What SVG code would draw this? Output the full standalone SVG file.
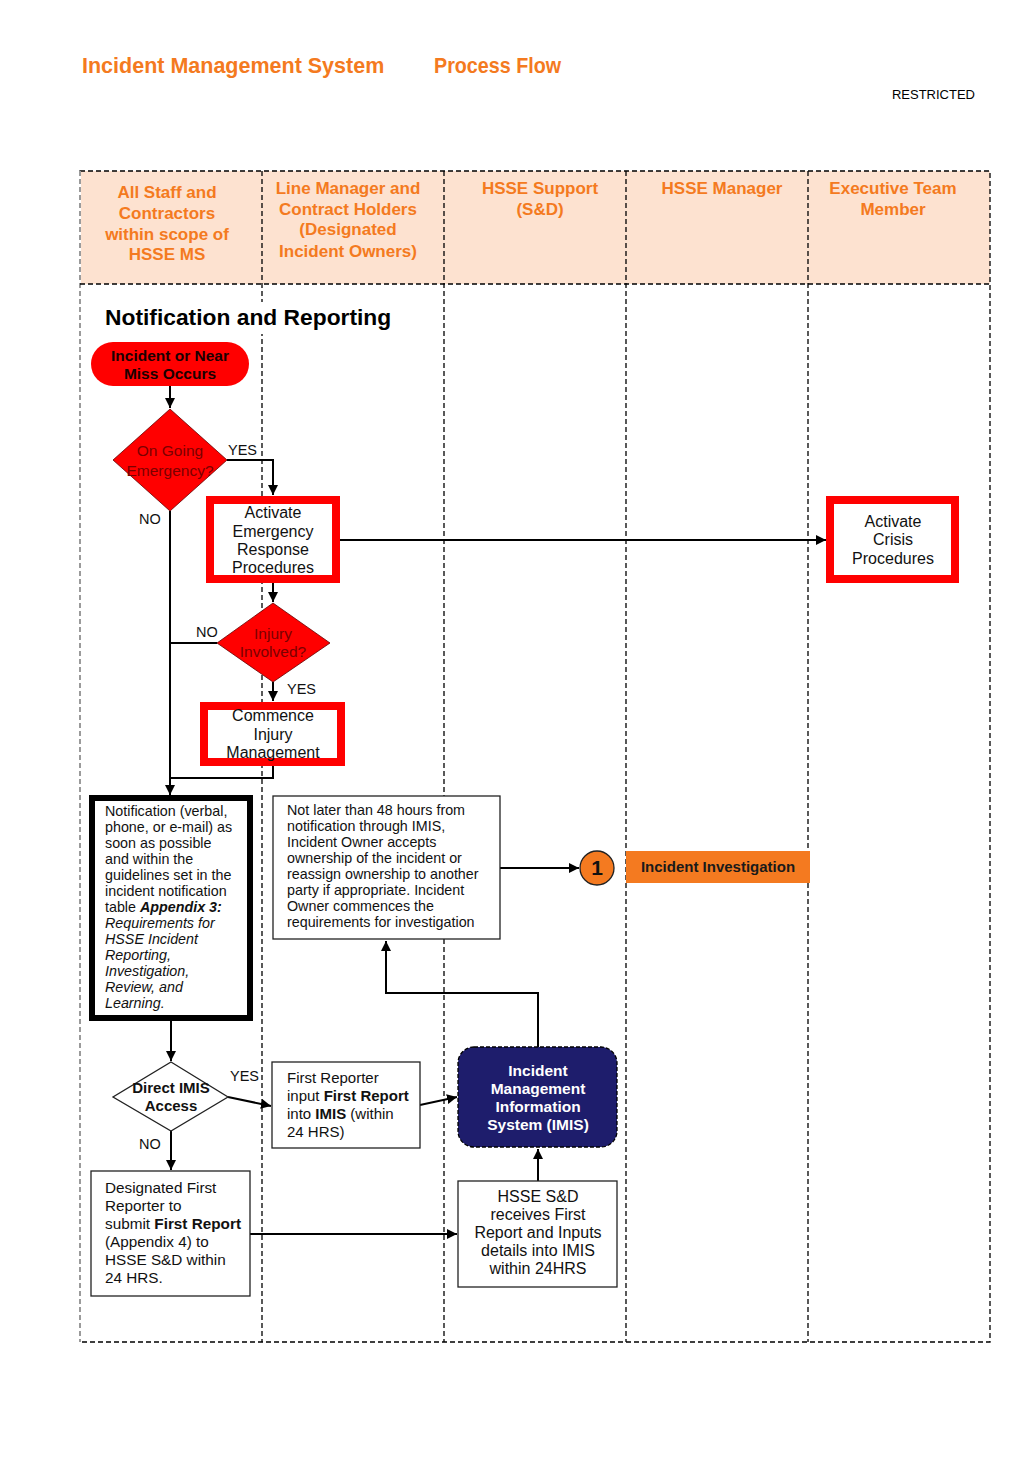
<svg xmlns="http://www.w3.org/2000/svg" width="1024" height="1479" viewBox="0 0 1024 1479">
<style>
text{font-family:"Liberation Sans",Arial,sans-serif;}
.title{font-size:21.5px;font-weight:bold;fill:#F47A20;}
.hdr{font-size:17px;font-weight:bold;fill:#F47A20;text-anchor:middle;}
.lane{fill:none;stroke:#000;stroke-width:1.3;stroke-dasharray:5,3;}
.conn{fill:none;stroke:#000;stroke-width:2;}
.t16{font-size:16px;fill:#111;}
.t155{font-size:15.3px;fill:#111;}
.t15{font-size:15px;fill:#111;}
.t13{font-size:14.3px;fill:#111;}
.c{text-anchor:middle;}
.redbox{fill:#fff;stroke:#FF0000;stroke-width:8;}
.box{fill:#fff;stroke:#222;stroke-width:1.3;}
.dtext{font-size:15.5px;fill:#7a0000;text-anchor:middle;}
.lbl{font-size:14.5px;fill:#111;}
.wb{font-weight:bold;fill:#fff;text-anchor:middle;font-size:15.5px;}
</style>
<defs>
<marker id="ah" viewBox="0 0 10 10" refX="10" refY="5" markerWidth="5" markerHeight="5" orient="auto" markerUnits="strokeWidth">
<path d="M0,0 L10,5 L0,10 z" fill="#000"/>
</marker>
</defs>

<g id="header">
<text class="title" x="82" y="73">Incident Management System</text>
<text class="title" x="434" y="73" textLength="127" lengthAdjust="spacingAndGlyphs">Process Flow</text>
<text x="975" y="99" font-size="13" text-anchor="end" fill="#000">RESTRICTED</text>
</g>

<g id="lanes">
<rect x="80" y="171" width="910" height="113" fill="#FDE2D0"/>
<rect class="lane" x="80" y="171" width="910" height="1171"/>
<line x1="80" y1="171" x2="80" y2="1342" stroke="#fff" stroke-width="2"/>
<line x1="80" y1="171" x2="80" y2="1342" stroke="#666" stroke-width="1.3" stroke-dasharray="5,3"/>
<line class="lane" x1="80" y1="284" x2="990" y2="284"/>
<line class="lane" x1="262" y1="171" x2="262" y2="1342"/>
<line class="lane" x1="444" y1="171" x2="444" y2="1342"/>
<line class="lane" x1="626" y1="171" x2="626" y2="1342"/>
<line class="lane" x1="808" y1="171" x2="808" y2="1342"/>
<text class="hdr" x="167" y="198">All Staff and</text>
<text class="hdr" x="167" y="219">Contractors</text>
<text class="hdr" x="167" y="240">within scope of</text>
<text class="hdr" x="167" y="260">HSSE MS</text>
<text class="hdr" x="348" y="194">Line Manager and</text>
<text class="hdr" x="348" y="215">Contract Holders</text>
<text class="hdr" x="348" y="235">(Designated</text>
<text class="hdr" x="348" y="257">Incident Owners)</text>
<text class="hdr" x="540" y="194">HSSE Support</text>
<text class="hdr" x="540" y="215">(S&amp;D)</text>
<text class="hdr" x="722" y="194">HSSE Manager</text>
<text class="hdr" x="893" y="194">Executive Team</text>
<text class="hdr" x="893" y="215">Member</text>
<rect x="100" y="302" width="295" height="32" fill="#fff"/>
<text x="105" y="325" font-size="22.8" font-weight="bold" fill="#000">Notification and Reporting</text>
</g>

<g id="connectors">
<line class="conn" x1="170" y1="386" x2="170" y2="408" marker-end="url(#ah)"/>
<polyline class="conn" points="227,460 273,460 273,495" marker-end="url(#ah)"/>
<line class="conn" x1="170" y1="511" x2="170" y2="795" marker-end="url(#ah)"/>
<line class="conn" x1="340" y1="540" x2="826" y2="540" marker-end="url(#ah)"/>
<line class="conn" x1="273" y1="583" x2="273" y2="602" marker-end="url(#ah)"/>
<line class="conn" x1="217" y1="643" x2="170" y2="643"/>
<line class="conn" x1="273" y1="682" x2="273" y2="701" marker-end="url(#ah)"/>
<polyline class="conn" points="273,766 273,778 170,778"/>
<line class="conn" x1="171" y1="1021" x2="171" y2="1061" marker-end="url(#ah)"/>
<line class="conn" x1="228" y1="1097" x2="271" y2="1106" marker-end="url(#ah)"/>
<line class="conn" x1="171" y1="1131" x2="171" y2="1170" marker-end="url(#ah)"/>
<line class="conn" x1="420" y1="1105" x2="457" y2="1097" marker-end="url(#ah)"/>
<polyline class="conn" points="538,1047 538,993 386,993 386,941" marker-end="url(#ah)"/>
<line class="conn" x1="500" y1="868" x2="579" y2="868" marker-end="url(#ah)"/>
<line class="conn" x1="538" y1="1181" x2="538" y2="1149" marker-end="url(#ah)"/>
<line class="conn" x1="250" y1="1234" x2="457" y2="1234" marker-end="url(#ah)"/>
<text class="lbl" x="228" y="455">YES</text>
<text class="lbl" x="139" y="524">NO</text>
<text class="lbl" x="196" y="637">NO</text>
<text class="lbl" x="287" y="694">YES</text>
<text class="lbl" x="230" y="1081">YES</text>
<text class="lbl" x="139" y="1149">NO</text>
</g>

<g id="start">
<rect x="91" y="342" width="158" height="44" rx="22" fill="#FF0000"/>
<text x="170" y="361" font-size="15.5" font-weight="bold" fill="#1a0000" text-anchor="middle">Incident or Near</text>
<text x="170" y="379" font-size="15.5" font-weight="bold" fill="#1a0000" text-anchor="middle">Miss Occurs</text>
</g>

<g id="ongoing">
<polygon points="170,409 227,460 170,511 113,460" fill="#FF0000" stroke="#600" stroke-width="0.8"/>
<text class="dtext" x="170" y="456">On Going</text>
<text class="dtext" x="170" y="476">Emergency?</text>
</g>

<g id="activate-erp">
<rect class="redbox" x="210" y="500" width="126" height="79"/>
<text class="t16 c" x="273" y="518">Activate</text>
<text class="t16 c" x="273" y="537">Emergency</text>
<text class="t16 c" x="273" y="555">Response</text>
<text class="t16 c" x="273" y="573">Procedures</text>
</g>

<g id="crisis">
<rect class="redbox" x="830" y="500" width="125" height="79"/>
<text class="t16 c" x="893" y="527">Activate</text>
<text class="t16 c" x="893" y="545">Crisis</text>
<text class="t16 c" x="893" y="564">Procedures</text>
</g>

<g id="injury">
<polygon points="273,603 330,643 273,682 217,643" fill="#FF0000" stroke="#600" stroke-width="0.8"/>
<text class="dtext" x="273" y="639">Injury</text>
<text class="dtext" x="273" y="657">Involved?</text>
</g>

<g id="commence">
<rect class="redbox" x="204" y="706" width="137" height="56"/>
<text class="t16 c" x="273" y="721">Commence</text>
<text class="t16 c" x="273" y="740">Injury</text>
<text class="t16 c" x="273" y="758">Management</text>
</g>

<g id="notification">
<rect x="92" y="798" width="158" height="220" fill="#fff" stroke="#000" stroke-width="6"/>
<text class="t13" x="105" y="816">Notification (verbal,</text>
<text class="t13" x="105" y="832">phone, or e-mail) as</text>
<text class="t13" x="105" y="848">soon as possible</text>
<text class="t13" x="105" y="864">and within the</text>
<text class="t13" x="105" y="880">guidelines set in the</text>
<text class="t13" x="105" y="896">incident notification</text>
<text class="t13" x="105" y="912">table <tspan font-weight="bold" font-style="italic">Appendix 3:</tspan></text>
<text class="t13" x="105" y="928" font-style="italic">Requirements for</text>
<text class="t13" x="105" y="944" font-style="italic">HSSE Incident</text>
<text class="t13" x="105" y="960" font-style="italic">Reporting,</text>
<text class="t13" x="105" y="976" font-style="italic">Investigation,</text>
<text class="t13" x="105" y="992" font-style="italic">Review, and</text>
<text class="t13" x="105" y="1008" font-style="italic">Learning.</text>
</g>

<g id="owner">
<rect class="box" x="273" y="796" width="227" height="143"/>
<text class="t13" x="287" y="815">Not later than 48 hours from</text>
<text class="t13" x="287" y="831">notification through IMIS,</text>
<text class="t13" x="287" y="847">Incident Owner accepts</text>
<text class="t13" x="287" y="863">ownership of the incident or</text>
<text class="t13" x="287" y="879">reassign ownership to another</text>
<text class="t13" x="287" y="895">party if appropriate. Incident</text>
<text class="t13" x="287" y="911">Owner commences the</text>
<text class="t13" x="287" y="927">requirements for investigation</text>
</g>

<g id="connector-1">
<circle cx="597" cy="868" r="17" fill="#F47A20" stroke="#222" stroke-width="1.3"/>
<text x="597" y="875" font-size="21" font-weight="bold" fill="#111" text-anchor="middle">1</text>
</g>

<g id="investigation">
<rect x="626" y="851" width="184" height="32" fill="#F47A20"/>
<text x="718" y="872" font-size="15" font-weight="bold" fill="#1a1a1a" text-anchor="middle">Incident Investigation</text>
</g>

<g id="direct-imis">
<polygon points="171,1062 228,1097 171,1131 113,1097" fill="#fff" stroke="#222" stroke-width="1.3"/>
<text x="171" y="1093" font-size="15" font-weight="bold" fill="#111" text-anchor="middle">Direct IMIS</text>
<text x="171" y="1111" font-size="15" font-weight="bold" fill="#111" text-anchor="middle">Access</text>
</g>

<g id="first-reporter">
<rect class="box" x="272" y="1062" width="148" height="86"/>
<text class="t15" x="287" y="1083">First Reporter</text>
<text class="t15" x="287" y="1101">input <tspan font-weight="bold">First Report</tspan></text>
<text class="t15" x="287" y="1119">into <tspan font-weight="bold">IMIS</tspan> (within</text>
<text class="t15" x="287" y="1137">24 HRS)</text>
</g>

<g id="imis">
<rect x="458" y="1047" width="159" height="100" rx="16" fill="#1E1D6C" stroke="#000" stroke-width="1.3" stroke-dasharray="4,2"/>
<text class="wb" x="538" y="1076">Incident</text>
<text class="wb" x="538" y="1094">Management</text>
<text class="wb" x="538" y="1112">Information</text>
<text class="wb" x="538" y="1130">System (IMIS)</text>
</g>

<g id="designated">
<rect class="box" x="91" y="1171" width="159" height="125"/>
<text class="t155" x="105" y="1193">Designated First</text>
<text class="t155" x="105" y="1211">Reporter to</text>
<text class="t155" x="105" y="1229">submit <tspan font-weight="bold">First Report</tspan></text>
<text class="t155" x="105" y="1247">(Appendix 4) to</text>
<text class="t155" x="105" y="1265">HSSE S&amp;D within</text>
<text class="t155" x="105" y="1283">24 HRS.</text>
</g>

<g id="hsse-receives">
<rect class="box" x="458" y="1181" width="159" height="106"/>
<text class="t16 c" x="538" y="1202">HSSE S&amp;D</text>
<text class="t16 c" x="538" y="1220">receives First</text>
<text class="t16 c" x="538" y="1238">Report and Inputs</text>
<text class="t16 c" x="538" y="1256">details into IMIS</text>
<text class="t16 c" x="538" y="1274">within 24HRS</text>
</g>
</svg>
